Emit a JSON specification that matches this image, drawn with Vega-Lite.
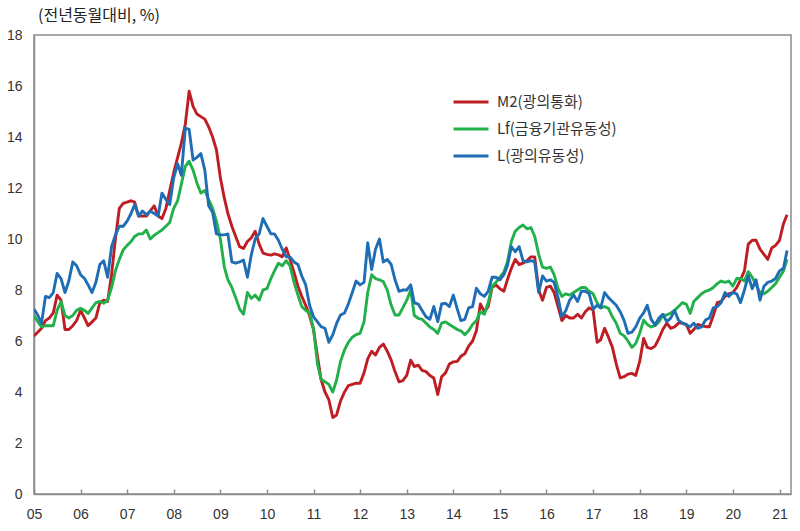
{
"$schema":"https://vega.github.io/schema/vega-lite/v6.json",
"width":757,"height":459,
"autosize":{"type":"none"},
"padding":{"left":34,"top":35,"right":9,"bottom":37},
"background":"white",
"config":{"view":{"stroke":"#8c8c8c","strokeWidth":1.5}},
"title":{"text":"(전년동월대비, %)","anchor":"start","frame":"group","orient":"top","offset":4,"dx":4,"font":"Noto Sans CJK KR","fontSize":16,"fontWeight":"normal","color":"#222"},
"data":{"format":{"parse":{"d":"date:'%Y-%m'"}},"values":[
{"d":"2005-01","M2":6.2,"Lf":7.0,"L":7.25},{"d":"2005-02","M2":6.35,"Lf":6.75,"L":7.0},{"d":"2005-03","M2":6.5,"Lf":6.55,"L":6.7},{"d":"2005-04","M2":6.8,"Lf":6.6,"L":7.75},{"d":"2005-05","M2":6.9,"Lf":6.6,"L":7.7},{"d":"2005-06","M2":7.1,"Lf":6.6,"L":7.9},{"d":"2005-07","M2":7.8,"Lf":7.2,"L":8.65},{"d":"2005-08","M2":7.6,"Lf":7.55,"L":8.45},{"d":"2005-09","M2":6.45,"Lf":7.0,"L":7.9},{"d":"2005-10","M2":6.45,"Lf":6.9,"L":8.35},{"d":"2005-11","M2":6.6,"Lf":7.0,"L":9.1},{"d":"2005-12","M2":6.8,"Lf":7.2,"L":8.95},
{"d":"2006-01","M2":7.2,"Lf":7.28,"L":8.6},{"d":"2006-02","M2":6.9,"Lf":7.2,"L":8.45},{"d":"2006-03","M2":6.6,"Lf":7.08,"L":8.2},{"d":"2006-04","M2":6.75,"Lf":7.3,"L":7.9},{"d":"2006-05","M2":6.9,"Lf":7.5,"L":8.3},{"d":"2006-06","M2":7.5,"Lf":7.55,"L":9.0},{"d":"2006-07","M2":7.6,"Lf":7.48,"L":9.15},{"d":"2006-08","M2":7.55,"Lf":7.6,"L":8.5},{"d":"2006-09","M2":8.6,"Lf":8.1,"L":9.7},{"d":"2006-10","M2":10.0,"Lf":8.75,"L":10.16},{"d":"2006-11","M2":11.2,"Lf":9.2,"L":10.5},{"d":"2006-12","M2":11.4,"Lf":9.57,"L":10.5},
{"d":"2007-01","M2":11.45,"Lf":9.75,"L":10.7},{"d":"2007-02","M2":11.5,"Lf":9.9,"L":11.0},{"d":"2007-03","M2":11.45,"Lf":10.1,"L":11.35},{"d":"2007-04","M2":10.9,"Lf":10.2,"L":10.9},{"d":"2007-05","M2":10.9,"Lf":10.2,"L":11.1},{"d":"2007-06","M2":10.9,"Lf":10.35,"L":10.95},{"d":"2007-07","M2":11.1,"Lf":10.0,"L":11.1},{"d":"2007-08","M2":11.3,"Lf":10.15,"L":11.0},{"d":"2007-09","M2":10.9,"Lf":10.25,"L":10.9},{"d":"2007-10","M2":10.8,"Lf":10.35,"L":11.8},{"d":"2007-11","M2":11.2,"Lf":10.5,"L":11.55},{"d":"2007-12","M2":11.9,"Lf":10.65,"L":11.35},
{"d":"2008-01","M2":12.6,"Lf":11.2,"L":12.4},{"d":"2008-02","M2":13.2,"Lf":11.5,"L":12.95},{"d":"2008-03","M2":13.75,"Lf":12.15,"L":12.5},{"d":"2008-04","M2":14.5,"Lf":12.85,"L":14.35},{"d":"2008-05","M2":15.8,"Lf":13.05,"L":14.3},{"d":"2008-06","M2":15.2,"Lf":12.7,"L":13.1},{"d":"2008-07","M2":14.9,"Lf":12.2,"L":13.2},{"d":"2008-08","M2":14.8,"Lf":11.8,"L":13.35},{"d":"2008-09","M2":14.7,"Lf":11.9,"L":12.7},{"d":"2008-10","M2":14.4,"Lf":11.55,"L":11.3},{"d":"2008-11","M2":14.0,"Lf":11.2,"L":11.05},{"d":"2008-12","M2":13.5,"Lf":10.7,"L":10.2},
{"d":"2009-01","M2":12.4,"Lf":10.0,"L":10.16},{"d":"2009-02","M2":11.6,"Lf":8.9,"L":10.16},{"d":"2009-03","M2":11.0,"Lf":8.4,"L":10.2},{"d":"2009-04","M2":10.5,"Lf":8.1,"L":9.1},{"d":"2009-05","M2":10.1,"Lf":7.7,"L":9.05},{"d":"2009-06","M2":9.7,"Lf":7.25,"L":9.1},{"d":"2009-07","M2":9.63,"Lf":7.05,"L":9.18},{"d":"2009-08","M2":9.9,"Lf":7.9,"L":8.5},{"d":"2009-09","M2":10.05,"Lf":7.67,"L":9.4},{"d":"2009-10","M2":10.3,"Lf":7.8,"L":10.0},{"d":"2009-11","M2":9.8,"Lf":7.6,"L":10.2},{"d":"2009-12","M2":9.45,"Lf":8.0,"L":10.8},
{"d":"2010-01","M2":9.4,"Lf":8.05,"L":10.5},{"d":"2010-02","M2":9.37,"Lf":8.45,"L":10.2},{"d":"2010-03","M2":9.42,"Lf":8.75,"L":10.2},{"d":"2010-04","M2":9.38,"Lf":9.05,"L":9.95},{"d":"2010-05","M2":9.3,"Lf":8.95,"L":9.6},{"d":"2010-06","M2":9.65,"Lf":9.15,"L":9.3},{"d":"2010-07","M2":9.2,"Lf":8.95,"L":9.3},{"d":"2010-08","M2":8.7,"Lf":8.3,"L":9.1},{"d":"2010-09","M2":8.15,"Lf":7.8,"L":9.0},{"d":"2010-10","M2":7.75,"Lf":7.35,"L":8.55},{"d":"2010-11","M2":7.4,"Lf":7.2,"L":8.2},{"d":"2010-12","M2":7.0,"Lf":7.1,"L":7.4},
{"d":"2011-01","M2":6.45,"Lf":6.5,"L":6.95},{"d":"2011-02","M2":5.4,"Lf":5.1,"L":6.75},{"d":"2011-03","M2":4.5,"Lf":4.5,"L":6.56},{"d":"2011-04","M2":4.0,"Lf":4.4,"L":6.5},{"d":"2011-05","M2":3.7,"Lf":4.3,"L":5.95},{"d":"2011-06","M2":3.0,"Lf":4.0,"L":6.24},{"d":"2011-07","M2":3.1,"Lf":4.47,"L":6.69},{"d":"2011-08","M2":3.65,"Lf":5.2,"L":7.02},{"d":"2011-09","M2":4.0,"Lf":5.65,"L":7.1},{"d":"2011-10","M2":4.25,"Lf":5.95,"L":7.45},{"d":"2011-11","M2":4.3,"Lf":6.15,"L":7.9},{"d":"2011-12","M2":4.35,"Lf":6.25,"L":8.35},
{"d":"2012-01","M2":4.34,"Lf":6.3,"L":8.2},{"d":"2012-02","M2":4.75,"Lf":6.75,"L":8.3},{"d":"2012-03","M2":5.3,"Lf":7.9,"L":9.85},{"d":"2012-04","M2":5.6,"Lf":8.6,"L":8.8},{"d":"2012-05","M2":5.45,"Lf":8.45,"L":9.6},{"d":"2012-06","M2":5.75,"Lf":8.4,"L":10.0},{"d":"2012-07","M2":5.88,"Lf":8.33,"L":9.1},{"d":"2012-08","M2":5.6,"Lf":8.0,"L":9.2},{"d":"2012-09","M2":5.25,"Lf":7.4,"L":9.0},{"d":"2012-10","M2":4.8,"Lf":7.02,"L":8.4},{"d":"2012-11","M2":4.4,"Lf":7.02,"L":7.95},{"d":"2012-12","M2":4.45,"Lf":7.3,"L":8.0},
{"d":"2013-01","M2":4.65,"Lf":7.6,"L":8.0},{"d":"2013-02","M2":5.25,"Lf":8.0,"L":8.2},{"d":"2013-03","M2":5.0,"Lf":7.0,"L":7.5},{"d":"2013-04","M2":5.05,"Lf":6.89,"L":7.45},{"d":"2013-05","M2":4.85,"Lf":6.85,"L":7.2},{"d":"2013-06","M2":4.8,"Lf":6.7,"L":6.95},{"d":"2013-07","M2":4.65,"Lf":6.55,"L":6.85},{"d":"2013-08","M2":4.55,"Lf":6.45,"L":7.35},{"d":"2013-09","M2":3.9,"Lf":6.3,"L":6.76},{"d":"2013-10","M2":4.6,"Lf":6.7,"L":7.45},{"d":"2013-11","M2":4.75,"Lf":6.75,"L":7.48},{"d":"2013-12","M2":5.1,"Lf":6.65,"L":7.35},
{"d":"2014-01","M2":5.18,"Lf":6.55,"L":7.8},{"d":"2014-02","M2":5.2,"Lf":6.45,"L":7.25},{"d":"2014-03","M2":5.4,"Lf":6.4,"L":6.8},{"d":"2014-04","M2":5.5,"Lf":6.25,"L":6.85},{"d":"2014-05","M2":5.8,"Lf":6.4,"L":7.3},{"d":"2014-06","M2":6.0,"Lf":6.65,"L":7.35},{"d":"2014-07","M2":6.4,"Lf":6.8,"L":8.07},{"d":"2014-08","M2":7.45,"Lf":7.15,"L":7.85},{"d":"2014-09","M2":7.15,"Lf":7.05,"L":7.75},{"d":"2014-10","M2":7.35,"Lf":7.5,"L":7.95},{"d":"2014-11","M2":8.1,"Lf":8.15,"L":8.5},{"d":"2014-12","M2":8.2,"Lf":8.3,"L":8.5},
{"d":"2015-01","M2":8.05,"Lf":8.5,"L":8.4},{"d":"2015-02","M2":7.95,"Lf":8.7,"L":8.6},{"d":"2015-03","M2":8.4,"Lf":9.1,"L":8.95},{"d":"2015-04","M2":8.85,"Lf":9.9,"L":9.7},{"d":"2015-05","M2":9.2,"Lf":10.3,"L":9.5},{"d":"2015-06","M2":9.0,"Lf":10.45,"L":9.7},{"d":"2015-07","M2":9.05,"Lf":10.55,"L":9.15},{"d":"2015-08","M2":9.15,"Lf":10.4,"L":9.1},{"d":"2015-09","M2":9.3,"Lf":10.45,"L":9.15},{"d":"2015-10","M2":9.3,"Lf":10.1,"L":9.1},{"d":"2015-11","M2":8.0,"Lf":9.4,"L":7.9},{"d":"2015-12","M2":7.6,"Lf":8.9,"L":8.55},
{"d":"2016-01","M2":8.1,"Lf":8.85,"L":8.35},{"d":"2016-02","M2":8.15,"Lf":8.9,"L":8.4},{"d":"2016-03","M2":7.9,"Lf":8.6,"L":8.3},{"d":"2016-04","M2":7.35,"Lf":8.05,"L":7.7},{"d":"2016-05","M2":6.8,"Lf":7.75,"L":6.95},{"d":"2016-06","M2":7.0,"Lf":7.85,"L":7.2},{"d":"2016-07","M2":6.9,"Lf":7.8,"L":7.6},{"d":"2016-08","M2":6.9,"Lf":7.9,"L":7.8},{"d":"2016-09","M2":7.05,"Lf":8.0,"L":7.55},{"d":"2016-10","M2":6.9,"Lf":8.1,"L":7.95},{"d":"2016-11","M2":7.15,"Lf":8.1,"L":7.95},{"d":"2016-12","M2":7.3,"Lf":7.95,"L":7.85},
{"d":"2017-01","M2":7.2,"Lf":7.85,"L":7.25},{"d":"2017-02","M2":5.95,"Lf":7.5,"L":7.4},{"d":"2017-03","M2":6.05,"Lf":7.3,"L":7.3},{"d":"2017-04","M2":6.5,"Lf":7.35,"L":7.9},{"d":"2017-05","M2":6.15,"Lf":7.28,"L":7.7},{"d":"2017-06","M2":5.75,"Lf":6.95,"L":7.55},{"d":"2017-07","M2":5.1,"Lf":6.7,"L":7.4},{"d":"2017-08","M2":4.55,"Lf":6.3,"L":7.15},{"d":"2017-09","M2":4.6,"Lf":6.2,"L":6.8},{"d":"2017-10","M2":4.7,"Lf":6.0,"L":6.3},{"d":"2017-11","M2":4.73,"Lf":5.75,"L":6.35},{"d":"2017-12","M2":4.65,"Lf":5.9,"L":6.55},
{"d":"2018-01","M2":5.2,"Lf":6.3,"L":6.9},{"d":"2018-02","M2":6.1,"Lf":6.82,"L":7.1},{"d":"2018-03","M2":5.75,"Lf":6.65,"L":7.4},{"d":"2018-04","M2":5.7,"Lf":6.55,"L":6.85},{"d":"2018-05","M2":5.8,"Lf":6.6,"L":6.63},{"d":"2018-06","M2":6.1,"Lf":6.75,"L":6.9},{"d":"2018-07","M2":6.45,"Lf":7.0,"L":7.05},{"d":"2018-08","M2":6.7,"Lf":7.02,"L":6.76},{"d":"2018-09","M2":6.5,"Lf":7.1,"L":6.9},{"d":"2018-10","M2":6.55,"Lf":7.2,"L":7.2},{"d":"2018-11","M2":6.7,"Lf":7.35,"L":6.82},{"d":"2018-12","M2":6.7,"Lf":7.5,"L":6.7},
{"d":"2019-01","M2":6.65,"Lf":7.45,"L":6.63},{"d":"2019-02","M2":6.3,"Lf":7.08,"L":6.56},{"d":"2019-03","M2":6.45,"Lf":7.55,"L":6.7},{"d":"2019-04","M2":6.65,"Lf":7.7,"L":6.5},{"d":"2019-05","M2":6.6,"Lf":7.85,"L":6.55},{"d":"2019-06","M2":6.56,"Lf":7.95,"L":6.82},{"d":"2019-07","M2":6.56,"Lf":8.0,"L":6.9},{"d":"2019-08","M2":7.0,"Lf":8.1,"L":7.3},{"d":"2019-09","M2":7.5,"Lf":8.25,"L":7.35},{"d":"2019-10","M2":7.55,"Lf":8.35,"L":7.5},{"d":"2019-11","M2":7.75,"Lf":8.3,"L":7.9},{"d":"2019-12","M2":7.85,"Lf":8.35,"L":7.75},
{"d":"2020-01","M2":7.9,"Lf":8.15,"L":7.9},{"d":"2020-02","M2":8.1,"Lf":8.45,"L":7.85},{"d":"2020-03","M2":8.4,"Lf":8.45,"L":7.5},{"d":"2020-04","M2":8.75,"Lf":8.35,"L":8.0},{"d":"2020-05","M2":9.8,"Lf":8.72,"L":8.55},{"d":"2020-06","M2":9.95,"Lf":8.5,"L":8.05},{"d":"2020-07","M2":9.95,"Lf":8.2,"L":8.4},{"d":"2020-08","M2":9.6,"Lf":7.9,"L":7.6},{"d":"2020-09","M2":9.4,"Lf":7.85,"L":8.15},{"d":"2020-10","M2":9.2,"Lf":7.95,"L":8.3},{"d":"2020-11","M2":9.65,"Lf":8.1,"L":8.35},{"d":"2020-12","M2":9.75,"Lf":8.25,"L":8.45},
{"d":"2021-01","M2":9.95,"Lf":8.5,"L":8.75},{"d":"2021-02","M2":10.6,"Lf":8.75,"L":8.85},{"d":"2021-03","M2":10.95,"Lf":9.2,"L":9.55}
]},
"transform":[{"fold":["M2","Lf","L"],"as":["s","v"]}],
"mark":{"type":"line","strokeWidth":2.9,"strokeJoin":"round","clip":true},
"encoding":{
"x":{"field":"d","type":"temporal","scale":{"domain":[{"year":2005,"month":1,"date":1},{"year":2021,"month":4,"date":1}]},
"axis":{"title":null,"format":"%y","tickCount":{"interval":"year","step":1},"grid":false,"tickSize":-5,"tickColor":"#8c8c8c","tickWidth":1.5,"domainColor":"#8c8c8c","domainWidth":1.5,"labelPadding":18,"labelFont":"Liberation Sans","labelFontSize":14,"labelColor":"#333","labelFlush":false,"labelOverlap":false}},
"y":{"field":"v","type":"quantitative","scale":{"domain":[0,18],"nice":false},
"axis":{"title":null,"values":[0,2,4,6,8,10,12,14,16,18],"grid":false,"ticks":false,"domainColor":"#8c8c8c","domainWidth":1.5,"labelPadding":12,"labelFont":"Liberation Sans","labelFontSize":14,"labelColor":"#333"}},
"color":{"field":"s","type":"nominal","sort":["M2","Lf","L"],"scale":{"domain":["M2","Lf","L"],"range":["#BE1E23","#22B04B","#1F6EB5"]},
"legend":{"orient":"none","legendX":418,"legendY":48,"title":null,"symbolType":"stroke","symbolStrokeWidth":3,"symbolSize":1225,"labelOffset":7,"rowPadding":-5,"padding":0,"labelFont":"Noto Sans CJK KR","labelFontSize":15,"labelColor":"#333",
"labelExpr":"datum.label == 'M2' ? 'M2(광의통화)' : datum.label == 'Lf' ? 'Lf(금융기관유동성)' : 'L(광의유동성)'"}}
}
}
